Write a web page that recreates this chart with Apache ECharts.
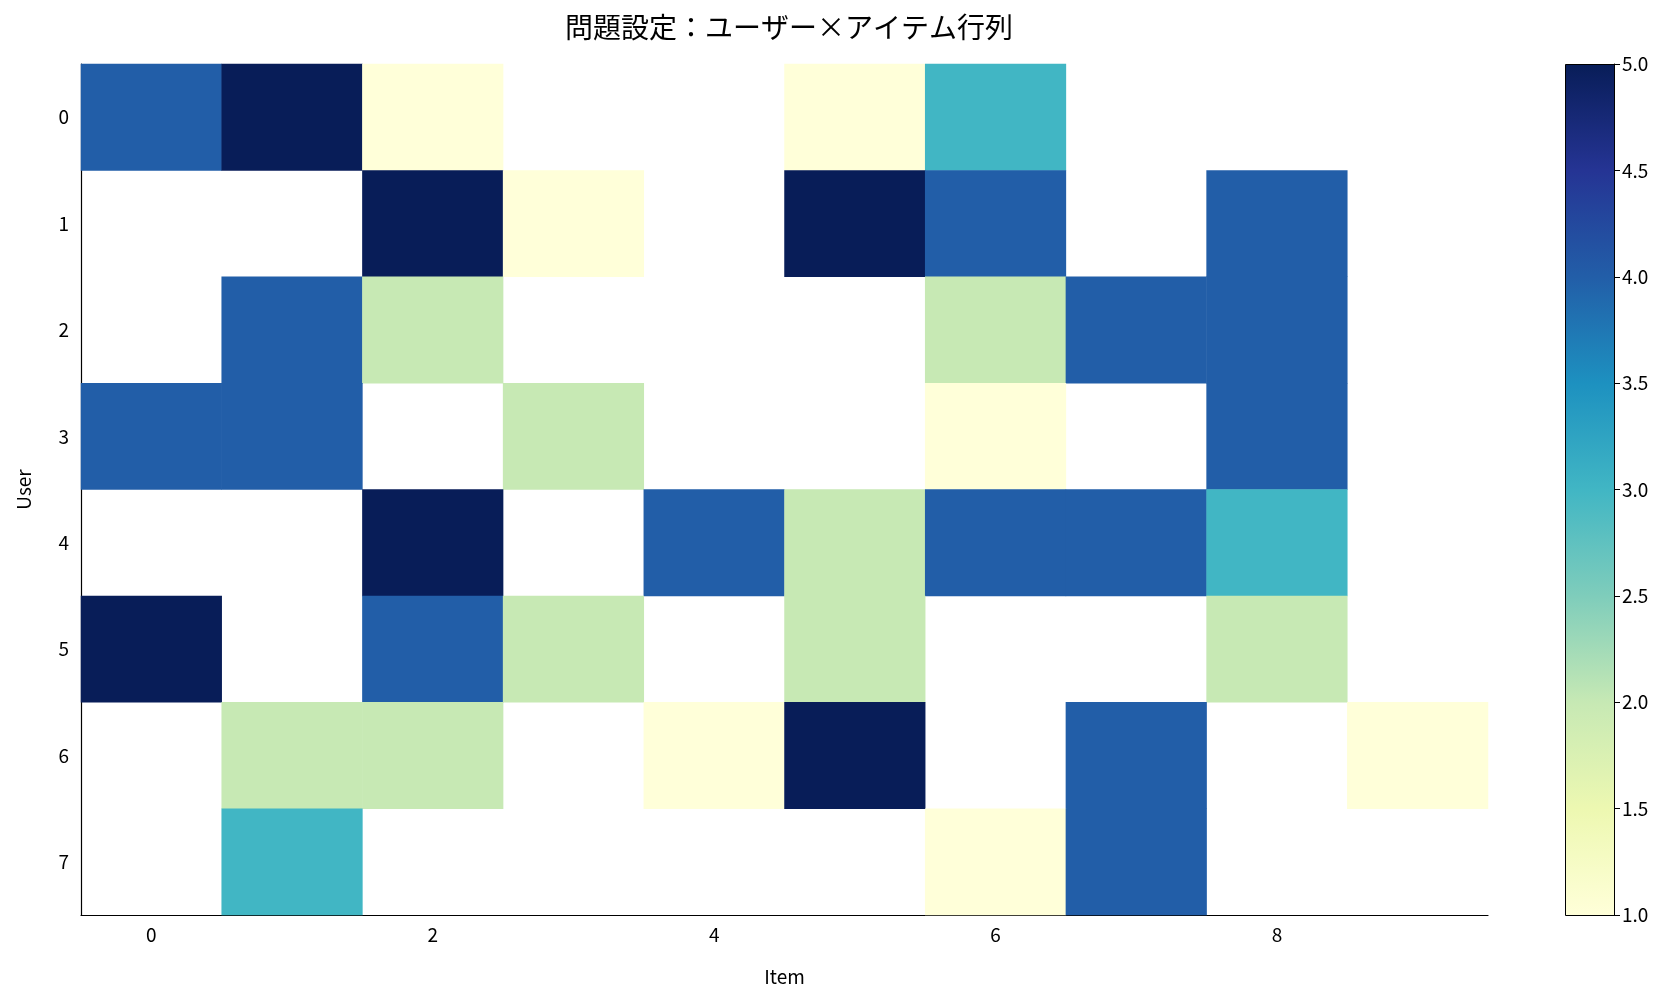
<!DOCTYPE html>
<html><head><meta charset="utf-8">
<script src="https://cdn.jsdelivr.net/npm/echarts@6/dist/echarts.min.js"></script>
<style>html,body{margin:0;background:#fff}#c{width:1677px;height:1008px}</style>
</head><body><div id="c"></div>
<script>
// ユーザー×アイテム 評価行列 (null = 未評価)
var items = ["0","1","2","3","4","5","6","7","8","9"];
var users = ["0","1","2","3","4","5","6","7"];
var ratings = [
  [4, 5, 1, null, null, 1, 3, null, null, null],
  [null, null, 5, 1, null, 5, 4, null, 4, null],
  [null, 4, 2, null, null, null, 2, 4, 4, null],
  [4, 4, null, 2, null, null, 1, null, 4, null],
  [null, null, 5, null, 4, 2, 4, 4, 3, null],
  [5, null, 4, 2, null, 2, null, null, 2, null],
  [null, 2, 2, null, 1, 5, null, 4, null, 1],
  [null, 3, null, null, null, null, 1, 4, null, null]
];
var colorbarTicks = [1, 1.5, 2, 2.5, 3, 3.5, 4, 4.5, 5];
var ylgnbu = ["#ffffd9","#edf8b1","#c7e9b4","#7fcdbb","#41b6c4","#1d91c0","#225ea8","#253494","#081d58"];

var cells = [];
ratings.forEach(function (row, u) {
  row.forEach(function (v, i) { if (v != null) cells.push([i, u, v]); });
});

var font = "Noto Sans CJK JP";
var chart = echarts.init(document.getElementById("c"));
chart.setOption({
  textStyle: { fontFamily: font },
  title: {
    text: "問題設定：ユーザー×アイテム行列", left: 784, top: 8, textAlign: "center",
    textStyle: { fontFamily: font, fontSize: 28, fontWeight: "normal", color: "#000" }
  },
  grid: [
    { left: 81, right: 189, top: 64, bottom: 93 },
    { left: 1565, width: 49, top: 64, bottom: 93 }
  ],
  xAxis: [
    {
      type: "category", data: items, gridIndex: 0, name: "Item", nameLocation: "middle", nameGap: 52,
      nameTextStyle: { fontSize: 19, color: "#000" },
      axisLine: { lineStyle: { color: "#000", width: 1.2 } },
      axisTick: { alignWithLabel: true, interval: 1, length: 6, lineStyle: { color: "#000" } },
      axisLabel: { interval: 1, fontSize: 19, color: "#000", margin: 10 },
      splitLine: { show: false }
    },
    { type: "category", gridIndex: 1, data: [""], show: false }
  ],
  yAxis: [
    {
      type: "category", data: users, gridIndex: 0, inverse: true, name: "User", nameLocation: "middle", nameGap: 48,
      nameTextStyle: { fontSize: 19, color: "#000" },
      axisLine: { lineStyle: { color: "#000", width: 1.2 } },
      axisTick: { alignWithLabel: true, length: 6, lineStyle: { color: "#000" } },
      axisLabel: { fontSize: 19, color: "#000", margin: 12 },
      splitLine: { show: false }
    },
    {
      type: "value", gridIndex: 1, position: "right", min: 1, max: 5, interval: 0.5,
      axisLine: { show: true, lineStyle: { color: "#000" } },
      axisTick: { show: true, length: 6, lineStyle: { color: "#000" } },
      axisLabel: { fontSize: 19, color: "#000", formatter: function (v) { return v.toFixed(1); } },
      splitLine: { show: false }
    }
  ],
  visualMap: {
    show: false, type: "continuous", min: 1, max: 5, seriesIndex: 0, inRange: { color: ylgnbu }
  },
  graphic: [{
    type: "rect", left: 1565, top: 64, z: -1,
    shape: { width: 49, height: 851 },
    style: {
      stroke: "#000", lineWidth: 1,
      fill: new echarts.graphic.LinearGradient(0, 1, 0, 0, ylgnbu.map(function (c, k) {
        return { offset: k / (ylgnbu.length - 1), color: c };
      }))
    }
  }],
  series: [
    { type: "heatmap", xAxisIndex: 0, yAxisIndex: 0, data: cells, itemStyle: { borderWidth: 0 } },
    { type: "line", xAxisIndex: 1, yAxisIndex: 1, data: [], silent: true }
  ]
});
</script></body></html>
